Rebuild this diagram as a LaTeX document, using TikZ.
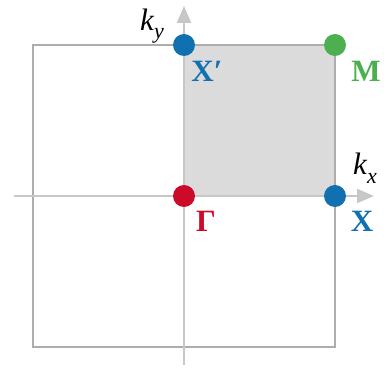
\documentclass[tikz,border=0pt]{standalone}
\usepackage{fontspec}
\setmainfont{Liberation Serif}
\usetikzlibrary{arrows.meta}
\newcommand{\kvec}[1]{\textit{k}\raisebox{-0.28em}{\fontsize{22}{22}\selectfont\textit{#1}}}
\begin{document}
\begin{tikzpicture}[x=1pt, y=-1pt,
        bzline/.style={draw=black!32, line width=2.8pt},
        axline/.style={draw=black!22, line width=2.4pt, -{Triangle[length=17pt, width=14pt]}},
        kdot/.style={circle, inner sep=0pt, minimum size=22pt},
        plab/.style={font=\fontsize{31}{33}\selectfont\bfseries},
        klab/.style={font=\fontsize{31}{33}\selectfont},
      ]
      \definecolor{kblue}{HTML}{1170B0}
      \definecolor{kred}{HTML}{CC0A2A}
      \definecolor{kgreen}{HTML}{4CAF50}
      \path[use as bounding box] (0,0) rectangle (384,371);
      % irreducible quadrant
      \fill[black!14] (184,45) rectangle (335,196);
      \draw[bzline] (33,45) rectangle (335,347);
      % axes
      \coordinate (xs) at (14,196);
      \coordinate (xe) at (374,196);
      \coordinate (ys) at (184,365);
      \coordinate (ye) at (184,6);
      \draw[axline] (xs) -- (xe);
      \draw[axline] (ys) -- (ye);
      \node[klab] (kx) at (365,168) {\kvec{x}};
      \node[klab] (ky) at (152,26) {\kvec{y}};
      % high-symmetry points
      \node[kdot, fill=kred] (G) at (184,196) {};
      \node[kdot, fill=kblue] (X) at (335,196) {};
      \node[kdot, fill=kblue] (Xp) at (184,45) {};
      \node[kdot, fill=kgreen] (M) at (335,45) {};
      \node[plab, text=kred] (Glab) at (206,221) {Γ};
      \node[plab, text=kblue] (Xlab) at (362,221) {X};
      \node[plab, text=kblue] (Xplab) at (207,71) {X′};
      \node[plab, text=kgreen] (Mlab) at (366,71) {M};
    \end{tikzpicture}
\end{document}
